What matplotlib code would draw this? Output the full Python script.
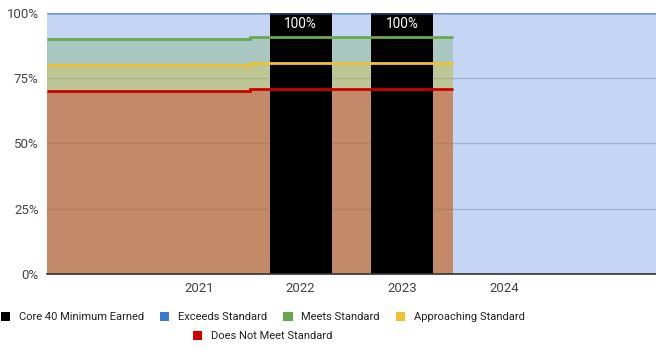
import matplotlib
matplotlib.use("Agg")
from matplotlib import pyplot as plt
from matplotlib.patches import Patch
import numpy as np

plt.rcParams['font.family'] = ['Roboto', 'DejaVu Sans']

years = ["", "2021", "2022", "2023", "2024", ""]
core40 = [np.nan, np.nan, 100, 100, np.nan, np.nan]
exceeds = [100, 100, 100, 100, 100, 100]
meets = [89.9, 90.0, 90.6, 90.6]
approaching = [79.9, 80.0, 80.6, 80.6]
not_meet = [69.9, 70.0, 70.6, 70.6]

c_black = '#000000'
c_blue = '#3c78d8'
c_green = '#6aa84f'
c_yellow = '#f1c232'
c_red = '#cc0000'
txt = '#444444'

fig = plt.figure(figsize=(6.56, 3.49), dpi=100)
ax = fig.add_axes([47 / 656, 1 - 274 / 349, 1 - 47 / 656, (274 - 12.5) / 349])

x = np.arange(len(years))
edges_all = np.arange(len(years) + 1) - 0.5

# stepped areas, drawn back to front so the transparent fills blend
for vals, col in [(exceeds, c_blue), (meets, c_green), (approaching, c_yellow), (not_meet, c_red)]:
    e = edges_all[:len(vals) + 1]
    ax.stairs(vals, e, fill=True, baseline=0, color=col, alpha=0.3, lw=0, zorder=2)

# core 40 bars
bars = ax.bar(x, core40, width=0.61, color=c_black, zorder=3)
for xi, v in zip(x, core40):
    if not np.isnan(v):
        ax.text(xi, v - 4.5, f"{v:.0f}%", color='white', ha='center', va='center', fontsize=9.8, zorder=5)

# outline steps on top of the bars
ax.stairs(exceeds, edges_all, baseline=None, color=c_blue, lw=1.8, alpha=0.5, zorder=4)
for vals, col in [(meets, c_green), (approaching, c_yellow), (not_meet, c_red)]:
    e = edges_all[:len(vals) + 1]
    ax.stairs(vals, e, baseline=None, color=col, lw=2, zorder=4)

ax.set_xlim(-0.5, len(years) - 0.5)
ax.set_ylim(0, 100)
ax.set_yticks([0, 25, 50, 75, 100])
ax.set_yticklabels(["0%", "25%", "50%", "75%", "100%"])
ax.set_xticks(x)
ax.set_xticklabels(years)
ax.tick_params(length=0, colors=txt, labelsize=9.5)
ax.tick_params(axis='y', pad=6)
ax.tick_params(axis='x', pad=6)
ax.grid(axis='y', color='#cccccc', lw=1, zorder=0)
ax.set_axisbelow(True)
for s in ['top', 'right', 'left']:
    ax.spines[s].set_visible(False)
ax.spines['bottom'].set_color('#333333')
ax.spines['bottom'].set_linewidth(1.2)
ax.spines['bottom'].set_zorder(6)

names = ["Core 40 Minimum Earned", "Exceeds Standard", "Meets Standard",
         "Approaching Standard", "Does Not Meet Standard"]
cols = [c_black, c_blue, c_green, c_yellow, c_red]
handles = [Patch(facecolor=c, edgecolor='none') for c in cols]

kw = dict(frameon=False, fontsize=8.0, handlelength=0.82, handleheight=0.95,
          handletextpad=0.8, columnspacing=1.45, labelcolor='#222222')
fig.legend(handles[:4], names[:4], loc='center', ncol=4,
           bbox_to_anchor=(263 / 656, 1 - 317 / 349), **kw)
fig.legend(handles[4:], names[4:], loc='center', ncol=1,
           bbox_to_anchor=(263 / 656, 1 - 336 / 349), **kw)

fig.savefig('out.png', dpi=100)
